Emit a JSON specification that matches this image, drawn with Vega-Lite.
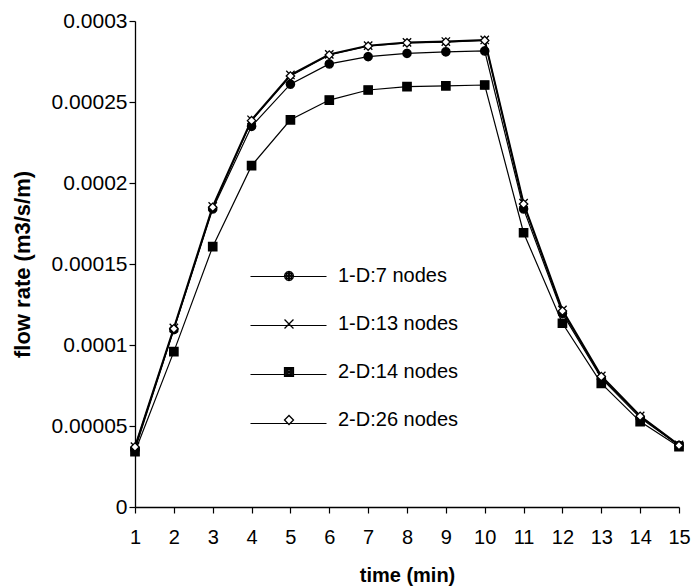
{
  "$schema": "https://vega.github.io/schema/vega-lite/v6.json",
  "autosize": {"type": "none"},
  "padding": {"left": 135, "top": 21, "right": 13, "bottom": 80},
  "width": 544,
  "height": 486,
  "background": "white",
  "config": {
    "font": "Liberation Sans",
    "view": {"stroke": null},
    "axis": {
      "grid": false,
      "domainColor": "black",
      "domainWidth": 1.3,
      "tickColor": "black",
      "tickWidth": 1.2,
      "tickSize": 6,
      "labelColor": "black",
      "labelFontSize": 20,
      "labelFont": "Liberation Sans",
      "titleColor": "black",
      "titleFont": "Liberation Sans",
      "titleFontWeight": "bold"
    }
  },
  "data": {
    "values": [
      {"t": 1, "s": "1-D:7 nodes", "v": 0.0000355},
      {"t": 2, "s": "1-D:7 nodes", "v": 0.0001095},
      {"t": 3, "s": "1-D:7 nodes", "v": 0.000184},
      {"t": 4, "s": "1-D:7 nodes", "v": 0.000235},
      {"t": 5, "s": "1-D:7 nodes", "v": 0.000261},
      {"t": 6, "s": "1-D:7 nodes", "v": 0.0002735},
      {"t": 7, "s": "1-D:7 nodes", "v": 0.000278},
      {"t": 8, "s": "1-D:7 nodes", "v": 0.00028},
      {"t": 9, "s": "1-D:7 nodes", "v": 0.000281},
      {"t": 10, "s": "1-D:7 nodes", "v": 0.0002815},
      {"t": 11, "s": "1-D:7 nodes", "v": 0.000184},
      {"t": 12, "s": "1-D:7 nodes", "v": 0.0001195},
      {"t": 13, "s": "1-D:7 nodes", "v": 0.0000795},
      {"t": 14, "s": "1-D:7 nodes", "v": 0.000055},
      {"t": 15, "s": "1-D:7 nodes", "v": 0.000038},
      {"t": 1, "s": "1-D:13 nodes", "v": 0.0000372},
      {"t": 2, "s": "1-D:13 nodes", "v": 0.0001105},
      {"t": 3, "s": "1-D:13 nodes", "v": 0.0001855},
      {"t": 4, "s": "1-D:13 nodes", "v": 0.000239},
      {"t": 5, "s": "1-D:13 nodes", "v": 0.0002667},
      {"t": 6, "s": "1-D:13 nodes", "v": 0.0002794},
      {"t": 7, "s": "1-D:13 nodes", "v": 0.0002848},
      {"t": 8, "s": "1-D:13 nodes", "v": 0.0002868},
      {"t": 9, "s": "1-D:13 nodes", "v": 0.0002873},
      {"t": 10, "s": "1-D:13 nodes", "v": 0.0002883},
      {"t": 11, "s": "1-D:13 nodes", "v": 0.0001875},
      {"t": 12, "s": "1-D:13 nodes", "v": 0.0001216},
      {"t": 13, "s": "1-D:13 nodes", "v": 0.0000809},
      {"t": 14, "s": "1-D:13 nodes", "v": 0.0000562},
      {"t": 15, "s": "1-D:13 nodes", "v": 0.0000383},
      {"t": 1, "s": "2-D:14 nodes", "v": 0.0000341},
      {"t": 2, "s": "2-D:14 nodes", "v": 0.0000959},
      {"t": 3, "s": "2-D:14 nodes", "v": 0.0001607},
      {"t": 4, "s": "2-D:14 nodes", "v": 0.0002107},
      {"t": 5, "s": "2-D:14 nodes", "v": 0.000239},
      {"t": 6, "s": "2-D:14 nodes", "v": 0.0002512},
      {"t": 7, "s": "2-D:14 nodes", "v": 0.0002574},
      {"t": 8, "s": "2-D:14 nodes", "v": 0.0002595},
      {"t": 9, "s": "2-D:14 nodes", "v": 0.00026},
      {"t": 10, "s": "2-D:14 nodes", "v": 0.0002605},
      {"t": 11, "s": "2-D:14 nodes", "v": 0.0001693},
      {"t": 12, "s": "2-D:14 nodes", "v": 0.0001134},
      {"t": 13, "s": "2-D:14 nodes", "v": 0.0000763},
      {"t": 14, "s": "2-D:14 nodes", "v": 0.0000527},
      {"t": 15, "s": "2-D:14 nodes", "v": 0.0000372},
      {"t": 1, "s": "2-D:26 nodes", "v": 0.000037},
      {"t": 2, "s": "2-D:26 nodes", "v": 0.00011},
      {"t": 3, "s": "2-D:26 nodes", "v": 0.000185},
      {"t": 4, "s": "2-D:26 nodes", "v": 0.0002385},
      {"t": 5, "s": "2-D:26 nodes", "v": 0.000266},
      {"t": 6, "s": "2-D:26 nodes", "v": 0.000279},
      {"t": 7, "s": "2-D:26 nodes", "v": 0.0002845},
      {"t": 8, "s": "2-D:26 nodes", "v": 0.0002865},
      {"t": 9, "s": "2-D:26 nodes", "v": 0.000287},
      {"t": 10, "s": "2-D:26 nodes", "v": 0.000288},
      {"t": 11, "s": "2-D:26 nodes", "v": 0.000187},
      {"t": 12, "s": "2-D:26 nodes", "v": 0.000121},
      {"t": 13, "s": "2-D:26 nodes", "v": 0.0000805},
      {"t": 14, "s": "2-D:26 nodes", "v": 0.000056},
      {"t": 15, "s": "2-D:26 nodes", "v": 0.000038}
    ]
  },
  "transform": [{"calculate": "datum.s", "as": "s2"}],
  "encoding": {
    "x": {
      "field": "t",
      "type": "quantitative",
      "scale": {"domain": [1, 15], "nice": false, "zero": false},
      "axis": {
        "values": [1, 2, 3, 4, 5, 6, 7, 8, 9, 10, 11, 12, 13, 14, 15],
        "format": "d",
        "labelPadding": 14,
        "labelFlush": false,
        "title": "time (min)",
        "titleFontSize": 20,
        "titleX": 272,
        "titleY": 68,
        "titleBaseline": "middle"
      }
    },
    "y": {
      "field": "v",
      "type": "quantitative",
      "scale": {"domain": [0, 0.0003], "nice": false},
      "axis": {
        "values": [0, 0.00005, 0.0001, 0.00015, 0.0002, 0.00025, 0.0003],
        "format": "~g",
        "labelPadding": 2,
        "labelFlush": false,
        "labelFontSize": 21,
        "title": "flow rate (m3/s/m)",
        "titleFontSize": 22,
        "titleAngle": -90,
        "titleX": -113,
        "titleY": 243,
        "titleAlign": "center",
        "titleBaseline": "middle"
      }
    }
  },
  "layer": [
    {
      "transform": [{"filter": "datum.s != '1-D:13 nodes'"}],
      "mark": {"type": "line", "strokeWidth": 1.2},
      "encoding": {
        "stroke": {
          "field": "s2",
          "type": "nominal",
          "scale": {"range": ["black", "black", "black", "black"]},
          "legend": {
            "title": null,
            "orient": "none",
            "legendX": 143,
            "legendY": 245,
            "padding": 0,
            "symbolType": "M-4,0L4,0",
            "symbolSize": 361,
            "symbolStrokeWidth": 1.2,
            "labelFontSize": 20,
            "labelOpacity": 0,
            "labelOffset": 38,
            "rowPadding": 28,
            "zindex": 1
          }
        }
      }
    },
    {
      "transform": [{"filter": "datum.s == '1-D:13 nodes'"}],
      "mark": {"type": "line", "strokeWidth": 2},
      "encoding": {
        "stroke": {
          "field": "s2",
          "type": "nominal",
          "scale": {"range": ["black", "black", "black", "black"]},
          "legend": {
            "title": null,
            "orient": "none",
            "legendX": 143,
            "legendY": 245,
            "padding": 0,
            "symbolType": "M-4,0L4,0",
            "symbolSize": 361,
            "symbolStrokeWidth": 1.2,
            "labelFontSize": 20,
            "labelOpacity": 0,
            "labelOffset": 38,
            "rowPadding": 28,
            "zindex": 1
          }
        }
      }
    },
    {
      "mark": {"type": "point", "stroke": "black", "strokeWidth": 1.3, "opacity": 1, "size": 70},
      "encoding": {
        "shape": {
          "field": "s",
          "type": "nominal",
          "scale": {
            "domain": ["1-D:7 nodes", "1-D:13 nodes", "2-D:14 nodes", "2-D:26 nodes"],
            "range": [
              "M1,0L0.866,0.5L0.5,0.866L0,1L-0.5,0.866L-0.866,0.5L-1,0L-0.866,-0.5L-0.5,-0.866L0,-1L0.5,-0.866L0.866,-0.5ZM0.7,0L0.495,0.495L0,0.7L-0.495,0.495L-0.7,0L-0.495,-0.495L0,-0.7L0.495,-0.495ZM0.4,0L0,0.4L-0.4,0L0,-0.4ZM0.15,0L-0.15,0",
              "M-1,-1L1,1M-1,1L1,-1",
              "M-1,-1L1,-1L1,1L-1,1ZM-0.7,-0.7L0.7,-0.7L0.7,0.7L-0.7,0.7ZM-0.4,-0.4L0.4,-0.4L0.4,0.4L-0.4,0.4ZM-0.1,-0.1L0.1,-0.1L0.1,0.1L-0.1,0.1Z",
              "diamond"
            ]
          },
          "legend": {
            "title": null,
            "orient": "none",
            "legendX": 144,
            "legendY": 245,
            "padding": 0,
            "symbolSize": 80,
            "symbolStrokeWidth": 1.3,
            "labelFontSize": 20,
            "labelFont": "Liberation Sans",
            "labelColor": "black",
            "labelOffset": 39,
            "rowPadding": 28,
            "zindex": 2
          }
        },
        "fill": {
          "condition": {"test": "datum.s == '1-D:7 nodes' || datum.s == '2-D:14 nodes'", "value": "black"},
          "value": "white"
        }
      }
    }
  ]
}
